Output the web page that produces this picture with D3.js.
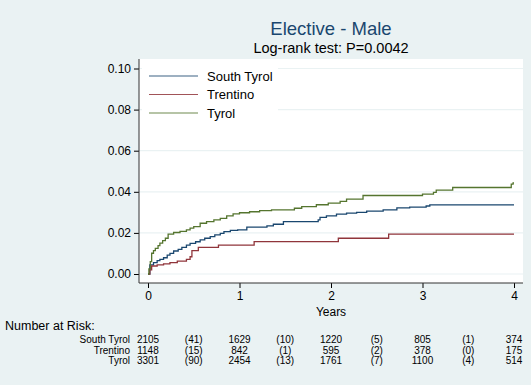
<!DOCTYPE html>
<html><head><meta charset="utf-8">
<script src="https://cdn.jsdelivr.net/npm/d3@7/dist/d3.min.js"></script>
<style>
html,body{margin:0;padding:0;background:#eaf2f3;}
svg{display:block;font-family:"Liberation Sans",Arial,Helvetica,sans-serif;}
</style>
</head><body>
<svg id="chart" width="531" height="385"></svg>
<script>
// ---- data ----
const titleText = "Elective - Male";
const subtitleText = "Log-rank test: P=0.0042";
const groups = ["South Tyrol", "Trentino", "Tyrol"];
const groupColors = ["#1a476f", "#90353b", "#55752f"];

// Kaplan-Meier cumulative failure, step points (years, failure)
const southTyrolT = [0, 0.02, 0.06, 0.10, 0.13, 0.17, 0.21, 0.24, 0.28, 0.33, 0.37, 0.42, 0.46, 0.52, 0.57, 0.62, 0.68, 0.73, 0.79, 0.83, 0.90, 0.98, 1.08, 1.30, 1.37, 1.48, 1.86, 1.88, 1.95, 2.06, 2.17, 2.28, 2.39, 2.57, 2.72, 2.86, 3.04, 3.08];
const southTyrolF = [0, 0.0044, 0.0055, 0.0065, 0.0071, 0.0079, 0.0092, 0.0100, 0.0112, 0.0120, 0.0130, 0.0141, 0.0149, 0.0157, 0.0166, 0.0174, 0.0182, 0.0190, 0.0198, 0.0206, 0.0212, 0.0215, 0.0228, 0.0234, 0.0242, 0.0255, 0.0263, 0.0276, 0.0283, 0.0291, 0.0296, 0.0300, 0.0306, 0.0312, 0.0322, 0.0325, 0.0331, 0.0336];

const trentinoT = [0, 0.02, 0.04, 0.10, 0.17, 0.24, 0.32, 0.42, 0.46, 0.48, 0.55, 0.77, 1.16, 2.08, 2.63];
const trentinoF = [0, 0.0020, 0.0039, 0.0044, 0.0049, 0.0055, 0.0063, 0.0071, 0.0084, 0.0114, 0.0130, 0.0141, 0.0158, 0.0174, 0.0194];

const tyrolT = [0, 0.01, 0.025, 0.04, 0.06, 0.08, 0.11, 0.13, 0.16, 0.19, 0.22, 0.28, 0.35, 0.42, 0.46, 0.50, 0.57, 0.64, 0.72, 0.79, 0.86, 0.93, 1.00, 1.11, 1.22, 1.35, 1.60, 1.68, 1.84, 1.97, 2.10, 2.17, 2.35, 3.00, 3.12, 3.15, 3.33, 3.97, 3.99];
const tyrolF = [0, 0.0025, 0.0060, 0.0101, 0.0114, 0.0125, 0.0138, 0.0150, 0.0162, 0.0174, 0.0194, 0.0202, 0.0207, 0.0215, 0.0223, 0.0231, 0.0247, 0.0255, 0.0263, 0.0271, 0.0283, 0.0293, 0.0298, 0.0303, 0.0308, 0.0312, 0.0320, 0.0328, 0.0337, 0.0345, 0.0353, 0.0364, 0.0382, 0.0389, 0.0397, 0.0408, 0.0421, 0.0437, 0.0443];

const yTicks = [0, 0.02, 0.04, 0.06, 0.08, 0.10];
const xTicks = [0, 1, 2, 3, 4];
const xMax = 4;

// Number at risk table
const riskTimes = [0, 0.5, 1, 1.5, 2, 2.5, 3, 3.5, 4];
const riskSouthTyrol = ["2105", "(41)", "1629", "(10)", "1220", "(5)", "805", "(1)", "374"];
const riskTrentino = ["1148", "(15)", "842", "(1)", "595", "(2)", "378", "(0)", "175"];
const riskTyrol = ["3301", "(90)", "2454", "(13)", "1761", "(7)", "1100", "(4)", "514"];

// ---- drawing ----
const svg = d3.select("#chart");
const W = 531, H = 385;
const plot = {left: 139, right: 523, top: 59, bottom: 283};

svg.append("rect").attr("width", W).attr("height", H).attr("fill", "#eaf2f3");
svg.append("rect").attr("x", plot.left).attr("y", plot.top)
  .attr("width", plot.right - plot.left).attr("height", plot.bottom - plot.top)
  .attr("fill", "#ffffff");

const x = d3.scaleLinear().domain([0, 4]).range([148, 514]);
const y = d3.scaleLinear().domain([0, 0.1]).range([274, 68.5]);

// gridlines
svg.append("g").selectAll("line").data(yTicks).join("line")
  .attr("x1", plot.left).attr("x2", plot.right)
  .attr("y1", d => y(d)).attr("y2", d => y(d))
  .attr("stroke", "#eaf2f3").attr("stroke-width", 1.2);

// legend box (inside plot, covers gridlines)
const leg = svg.append("g");
leg.append("rect").attr("x", 142).attr("y", 61).attr("width", 136).attr("height", 62).attr("fill", "#ffffff");
groups.forEach((g, i) => {
  const ly = 76 + i * 18.5;
  leg.append("line").attr("x1", 149).attr("x2", 198).attr("y1", ly).attr("y2", ly)
    .attr("stroke", groupColors[i]).attr("stroke-width", 1.2).attr("stroke-opacity", 0.85);
  leg.append("text").attr("x", 207).attr("y", ly).attr("dy", "0.36em")
    .attr("font-size", 13).attr("fill", "#000").text(g);
});

// curves
const series = [
  {t: southTyrolT, f: southTyrolF},
  {t: trentinoT, f: trentinoF},
  {t: tyrolT, f: tyrolF}
];
const line = d3.line().x(d => x(d[0])).y(d => y(d[1])).curve(d3.curveStepAfter);
series.forEach((s, i) => {
  const pts = s.t.map((t, k) => [t, s.f[k]]);
  pts.push([xMax, s.f[s.f.length - 1]]);
  svg.append("path").datum(pts).attr("d", line)
    .attr("fill", "none").attr("stroke", groupColors[i]).attr("stroke-width", 1.3);
});

// axes
const yAxis = d3.axisLeft(y).tickValues(yTicks).tickFormat(d3.format(".2f")).tickSize(5).tickPadding(3);
const gy = svg.append("g").attr("transform", `translate(${plot.left},0)`).call(yAxis);
gy.select(".domain").remove();
gy.selectAll("text").attr("font-size", 12).attr("fill", "#000").attr("font-family", "Liberation Sans, Arial, sans-serif");
gy.selectAll(".tick line").attr("stroke", "#000");

const xAxis = d3.axisBottom(x).tickValues(xTicks).tickFormat(d3.format("d")).tickSize(5).tickPadding(3);
const gx = svg.append("g").attr("transform", `translate(0,${plot.bottom})`).call(xAxis);
gx.select(".domain").remove();
gx.selectAll("text").attr("font-size", 12).attr("fill", "#000").attr("font-family", "Liberation Sans, Arial, sans-serif");
gx.selectAll(".tick line").attr("stroke", "#000");

svg.append("line").attr("x1", plot.left).attr("x2", plot.left).attr("y1", plot.top).attr("y2", plot.bottom)
  .attr("stroke", "#333").attr("stroke-width", 1);
svg.append("line").attr("x1", plot.left).attr("x2", plot.right).attr("y1", plot.bottom).attr("y2", plot.bottom)
  .attr("stroke", "#333").attr("stroke-width", 1);

// titles
svg.append("text").attr("x", 331).attr("y", 34.5).attr("text-anchor", "middle")
  .attr("font-size", 18.5).attr("fill", "#1a476f").text(titleText);
svg.append("text").attr("x", 331).attr("y", 53).attr("text-anchor", "middle")
  .attr("font-size", 14.5).attr("fill", "#000").text(subtitleText);
svg.append("text").attr("x", 331).attr("y", 316).attr("text-anchor", "middle")
  .attr("font-size", 12).attr("fill", "#000").text("Years");

// number at risk
svg.append("text").attr("x", 5).attr("y", 330).attr("font-size", 12.5).attr("fill", "#000").text("Number at Risk:");
const riskRows = [riskSouthTyrol, riskTrentino, riskTyrol];
riskRows.forEach((row, i) => {
  const by = 343 + i * 10.5;
  svg.append("text").attr("x", 130).attr("y", by).attr("text-anchor", "end")
    .attr("font-size", 10).attr("fill", "#000").text(groups[i]);
  svg.append("g").selectAll("text").data(row).join("text")
    .attr("x", (d, k) => x(riskTimes[k])).attr("y", by).attr("text-anchor", "middle")
    .attr("font-size", 10).attr("fill", "#000").text(d => d);
});
</script>
</body></html>
